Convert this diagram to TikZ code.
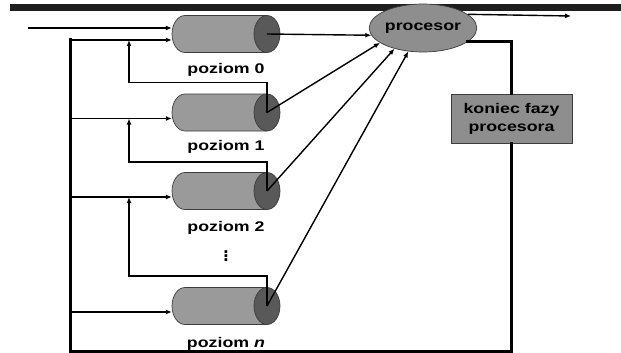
\documentclass[tikz,border=0pt]{standalone}
\usepackage{fontspec}
\setmainfont{Liberation Sans}
\usepackage{graphicx}
\usetikzlibrary{shapes,arrows.meta,positioning}

\definecolor{bodygray}{HTML}{9A9A9A}
\definecolor{capgray}{HTML}{595959}
\definecolor{procgray}{HTML}{8E8E8E}
\definecolor{edgegray}{HTML}{3C3C3C}
\definecolor{bardark}{HTML}{1E1E1E}

\newcommand{\wide}[1]{\scalebox{1.27}[1]{#1}}

\tikzset{
  slot/.style={minimum width=108, minimum height=37, inner sep=0},
  qbody/.style={fill=bodygray, draw=edgegray, line width=0.7pt},
  qcap/.style={fill=capgray, draw=edgegray, line width=0.7pt},
  lbl/.style={font=\bfseries\fontsize{14}{18}\selectfont, inner sep=0},
  flow/.style={line width=1.4pt, -{Latex[length=6pt,width=5pt]}},
  loop/.style={line width=3pt, line cap=rect},
}

\begin{document}
\begin{tikzpicture}[x=1pt,y=-1pt]
    \useasboundingbox (0,0) rectangle (621,353);
    % header bar
    \fill[bardark] (10,4) rectangle (621,11);

    % queues of the levels
    \foreach \q/\y in {q0/34,q1/112.5,q2/191,qn/306} {
        \node[slot] (\q) at (226,\y) {};
        \filldraw[qbody] (267,\y-18.5) -- (185,\y-18.5)
            arc[start angle=90, end angle=270, x radius=13pt, y radius=18.5pt]
            -- (267,\y+18.5) -- cycle;
        \filldraw[qcap] (267,\y) ellipse[x radius=13pt, y radius=18.5pt];
        \coordinate (cap-\q) at (267,\y);
    }
    \node[lbl, anchor=base] (l0) at ([yshift=-21pt]q0.south) {\wide{poziom 0}};
    \node[lbl, anchor=base] (l1) at ([yshift=-19.5pt]q1.south) {\wide{poziom 1}};
    \node[lbl, anchor=base] (l2) at ([yshift=-21.5pt]q2.south) {\wide{poziom 2}};
    \node[lbl, font=\bfseries\fontsize{19}{20}\selectfont] (dots) at (226,253) {$\vdots$};
    \node[lbl, anchor=base] (ln) at ([yshift=-22.5pt]qn.south) {\wide{poziom \textit{n}}};

    % processor and end of phase
    \node[ellipse, lbl, fill=procgray, draw=edgegray, line width=0.7pt,
      minimum width=91, minimum height=48] (proc) at (423,28) {\wide{procesor}};
    \node[rectangle, lbl, fill=procgray, draw=edgegray, line width=0.7pt, align=center,
      minimum width=121, minimum height=49] (kon) at (511.5,118.5)
      {\wide{koniec fazy}\\\wide{procesora}};

    \coordinate (in0) at (28,28);
    \coordinate (out) at (571,16);
    \coordinate (lb) at (70,351.5);
    \coordinate (lt) at (70,40);
    \coordinate (e1) at (70,118.5);
    \coordinate (e2) at (70,197);
    \coordinate (en) at (70,312);
    \coordinate (f0) at (129,40);
    \coordinate (f1) at (129,118.5);
    \coordinate (f2) at (129,197);

    % arrivals
    \draw[flow] (in0) -- (in0 -| q0.west);
    \draw[flow] (proc.17) -- (out);

    % return loop
    \draw[loop] (proc.-17) -| (kon.north);
    \draw[loop] (kon.south) |- (lb) -- (lt);
    \draw[flow] (lt) -- (lt -| q0.west);
    \draw[flow] (e1) -- (e1 -| q1.west);
    \draw[flow] (e2) -- (e2 -| q2.west);
    \draw[flow] (en) -- (en -| qn.west);

    % promotion to the level above
    \draw[flow] (cap-q1) -- ++(0,-30) -| (f0);
    \draw[flow] (cap-q2) -- ++(0,-29) -| (f1);
    \draw[flow] (cap-qn) -- ++(0,-30) -| (f2);

    % to the processor
    \draw[flow] (cap-q0) -- (proc.188);
    \draw[flow] (cap-q1) -- (proc.199);
    \draw[flow] (cap-q2) -- (proc.216);
    \draw[flow] (cap-qn) -- (proc.238);
\end{tikzpicture}
\end{document}
